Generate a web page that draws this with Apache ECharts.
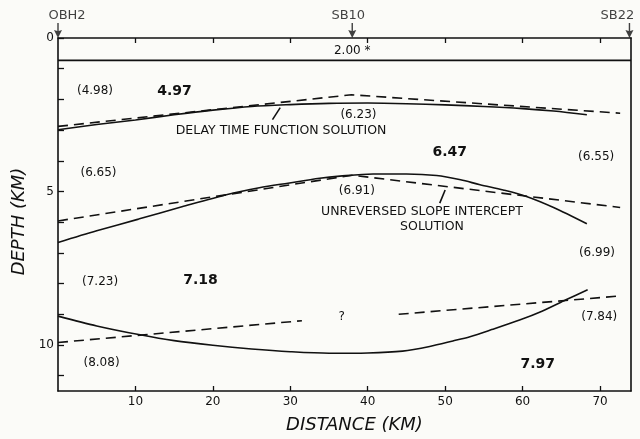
<!DOCTYPE html>
<html><head><meta charset="utf-8">
<script src="https://cdn.jsdelivr.net/npm/echarts@6/dist/echarts.min.js"></script>
<style>html,body{margin:0;padding:0;background:#fbfbf8}#c{width:640px;height:439px}</style>
</head><body><div id="c"></div>
<script>
// ---- data ----
const distanceRange = [0, 74];
const depthRange = [0, 11.5];
const distanceTicks = [10, 20, 30, 40, 50, 60, 70];
const depthTicks = [0, 1, 2, 3, 4, 5, 6, 7, 8, 9, 10, 11];
const depthLabels = [0, 5, 10];
const stationNames = ['OBH2', 'SB10', 'SB22'];
const stationKm = [0, 38, 73.8];
const waterDepth = 0.73;

// delay time function solution (solid)
const delaySolid1 = [[0,2.99],[5,2.82],[10,2.67],[15,2.5],[20,2.35],[25,2.23],[30,2.17],[35,2.13],[40,2.12],[45,2.14],[50,2.18],[55,2.23],[60,2.3],[64,2.38],[68.3,2.5]];
const delaySolid2 = [[0,6.66],[5,6.28],[10.4,5.9],[16,5.5],[22,5.09],[26,4.88],[29.7,4.73],[33.8,4.57],[36.4,4.5],[40.7,4.43],[45,4.43],[48.9,4.48],[52,4.62],[54.5,4.78],[57.5,4.95],[60.5,5.16],[64,5.52],[68.3,6.05]];
const delaySolid3 = [[0,9.06],[5,9.38],[10.6,9.67],[15,9.86],[20,10.01],[25,10.13],[30,10.22],[35,10.27],[40,10.26],[44.5,10.2],[48,10.05],[51,9.87],[53.2,9.73],[56,9.5],[59.7,9.18],[62.5,8.9],[65.6,8.53],[68.4,8.2]];
// unreversed slope intercept solution (dashed)
const slopeDashed1 = [[0,2.88],[37.9,1.85],[72.6,2.45]];
const slopeDashed2 = [[0,5.96],[38,4.47],[72.6,5.52]];
const slopeDashed3a = [[0,9.92],[31.5,9.21]];
const slopeDashed3b = [[44,9.0],[72.8,8.4]];
// leader lines for captions
const leader1 = [[28.7,2.27],[27.7,2.66]];
const leader2 = [[50.0,4.95],[49.3,5.38]];
// annotations [text, distance, depth]
const waterLabel = [['2.00 *', 38.0, 0.41]];
const velocityLabels = [['(4.98)',4.78,1.71],['(6.23)',38.8,2.5],['(6.55)',69.5,3.86],['(6.65)',5.23,4.40],['(6.91)',38.6,4.97],['(6.99)',69.6,7.01],['(7.23)',5.43,7.94],['(7.84)',69.9,9.10],['(8.08)',5.62,10.6],['?',36.65,9.08]];
const boldLabels = [['4.97',15.05,1.75],['6.47',50.6,3.73],['7.18',18.4,7.90],['7.97',61.95,10.62]];
const captions = [['DELAY TIME FUNCTION SOLUTION',28.8,3.02],['UNREVERSED SLOPE INTERCEPT',47.0,5.65],['SOLUTION',48.3,6.14]];

// ---- styles ----
const INK = '#111111';
const FONT = 'DejaVu Sans';
const stationLabelOffset = [9, -4, -12];

function lineSeries(data, dashed, smooth) {
  return {
    type: 'line', data: data, showSymbol: false, smooth: smooth ? 0.3 : false,
    silent: true, clip: false,
    lineStyle: { color: INK, width: 1.6, type: dashed ? [10, 6] : 'solid' }
  };
}
function textSeries(items, style) {
  return {
    type: 'scatter', silent: true, clip: false, symbolSize: 1,
    itemStyle: { color: 'rgba(0,0,0,0)' },
    data: items.map(d => ({ value: [d[1], d[2]], name: d[0] })),
    label: Object.assign({ show: true, position: 'inside', formatter: '{b}', color: INK, fontFamily: FONT,
      textBorderWidth: 0, textBorderColor: 'transparent', textShadowBlur: 0, opacity: 1 }, style)
  };
}

const chart = echarts.init(document.getElementById('c'), null, { renderer: 'canvas' });
chart.setOption({
  animation: false,
  backgroundColor: '#fbfbf8',
  grid: { left: 58, right: 9, top: 38, bottom: 48 },
  xAxis: [{
    type: 'value', min: distanceRange[0], max: distanceRange[1], position: 'bottom',
    name: 'DISTANCE (KM)', nameLocation: 'middle', nameGap: 25,
    nameTextStyle: { fontFamily: FONT, fontSize: 18, fontStyle: 'italic', color: INK, padding: [0, 0, 0, 20] },
    axisLine: { show: true, onZero: false, lineStyle: { color: INK, width: 1.6 } },
    axisTick: { show: true, inside: true, length: 5, customValues: distanceTicks, lineStyle: { color: INK, width: 1.3 } },
    axisLabel: { show: true, customValues: distanceTicks, margin: 5, fontFamily: FONT, fontSize: 12, color: INK },
    splitLine: { show: false }
  }, {
    type: 'value', min: distanceRange[0], max: distanceRange[1], position: 'top',
    axisLine: { show: true, onZero: false, lineStyle: { color: INK, width: 1.6 } },
    axisTick: { show: true, inside: true, length: 5, customValues: distanceTicks, lineStyle: { color: INK, width: 1.3 } },
    axisLabel: { show: false },
    splitLine: { show: false }
  }],
  yAxis: [{
    type: 'value', inverse: true, min: depthRange[0], max: depthRange[1], position: 'left',
    name: 'DEPTH (KM)', nameLocation: 'middle', nameGap: 27,
    nameTextStyle: { fontFamily: FONT, fontSize: 18, fontStyle: 'italic', color: INK, padding: [0, 14, 0, 0] },
    axisLine: { show: true, onZero: false, lineStyle: { color: INK, width: 1.6 } },
    axisTick: { show: true, inside: true, length: 6, customValues: depthTicks, lineStyle: { color: INK, width: 1.3 } },
    axisLabel: { show: true, customValues: depthLabels, margin: 4, fontFamily: FONT, fontSize: 12, color: INK },
    splitLine: { show: false }
  }, {
    type: 'value', inverse: true, min: depthRange[0], max: depthRange[1], position: 'right',
    axisLine: { show: true, onZero: false, lineStyle: { color: INK, width: 1.6 } },
    axisTick: { show: false }, axisLabel: { show: false }, splitLine: { show: false }
  }],
  series: [
    lineSeries([[distanceRange[0], waterDepth], [distanceRange[1], waterDepth]], false, false),
    lineSeries(delaySolid1, false, true),
    lineSeries(delaySolid2, false, true),
    lineSeries(delaySolid3, false, true),
    lineSeries(slopeDashed1, true, false),
    lineSeries(slopeDashed2, true, false),
    lineSeries(slopeDashed3a, true, false),
    lineSeries(slopeDashed3b, true, false),
    lineSeries(leader1, false, false),
    lineSeries(leader2, false, false),
    textSeries(waterLabel, { fontSize: 12 }),
    textSeries(velocityLabels, { fontSize: 12 }),
    textSeries(boldLabels, { fontSize: 14, fontWeight: 'bold' }),
    textSeries(captions, { fontSize: 12.5 }),
    {
      type: 'scatter', silent: true, clip: false,
      symbol: 'path://M4.3,0 L5.7,0 L5.7,8 L9,7 L5,15 L1,7 L4.3,8 Z',
      symbolSize: [8, 15], symbolOffset: [0, -7.5], symbolKeepAspect: false,
      itemStyle: { color: INK },
      data: stationNames.map((n, i) => ({ value: [stationKm[i], 0], name: n, label: { offset: [stationLabelOffset[i], 0] } })),
      label: { show: true, position: 'top', distance: 1, formatter: '{b}', fontFamily: FONT, fontSize: 13, color: INK,
        textBorderWidth: 0 }
    }
  ]
});
</script>
</body></html>
